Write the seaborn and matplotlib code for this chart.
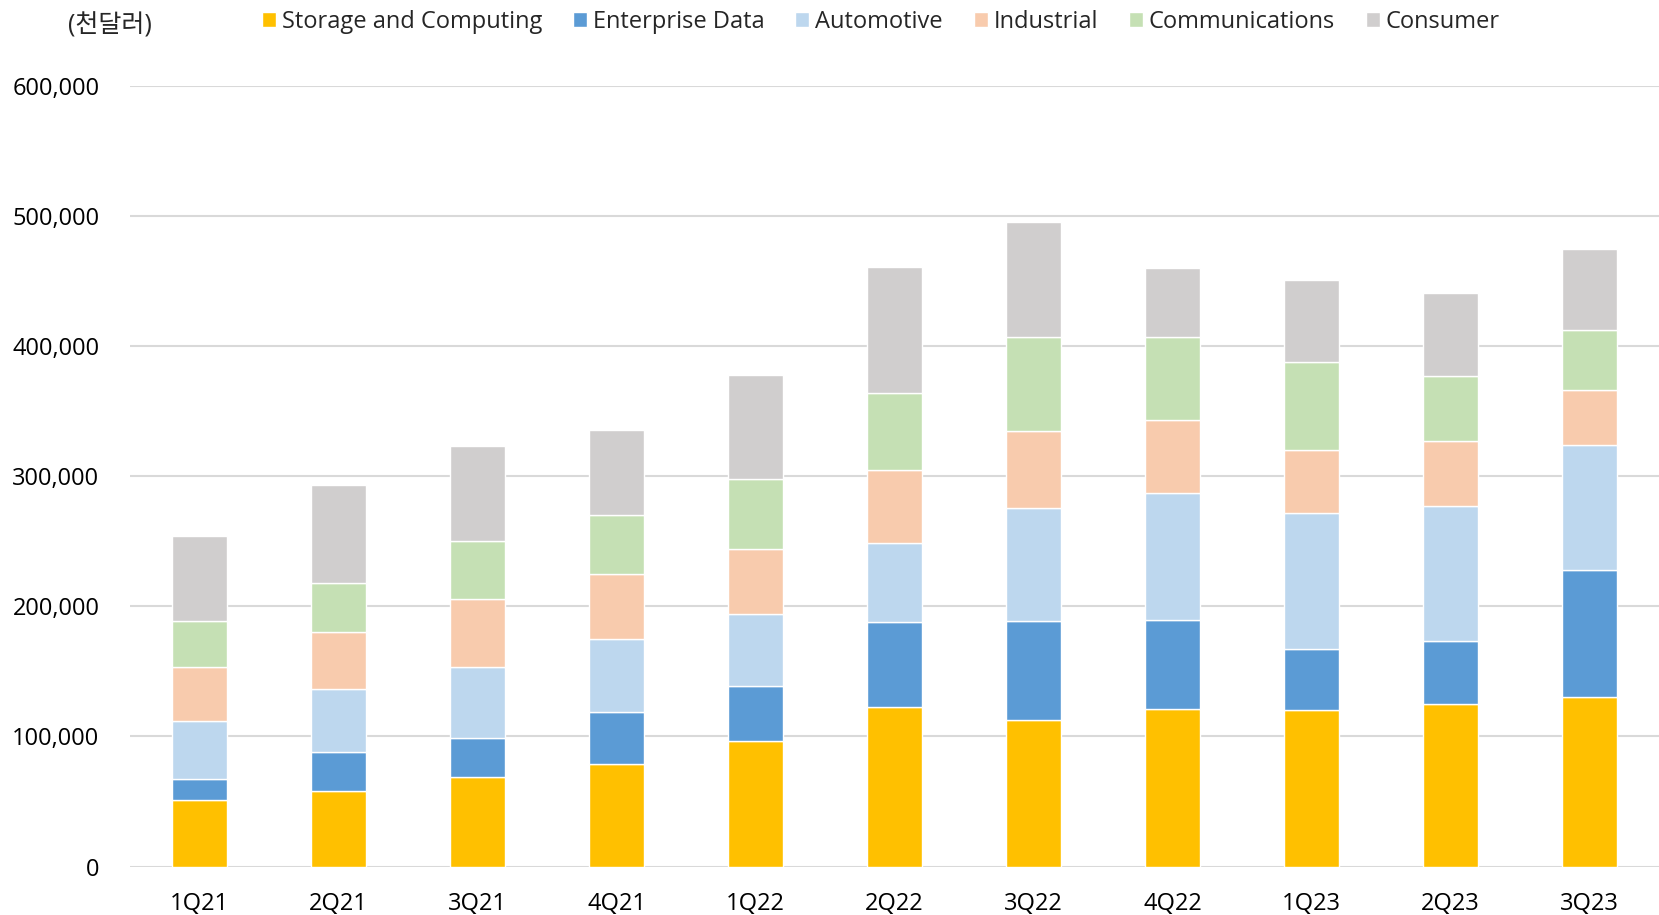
import matplotlib
matplotlib.use('Agg')
import matplotlib.pyplot as plt
import seaborn as sns
import numpy as np
import pandas as pd
from matplotlib.ticker import FuncFormatter

# Quarterly revenue by end market (천달러)
quarters = ['1Q21', '2Q21', '3Q21', '4Q21', '1Q22', '2Q22',
            '3Q22', '4Q22', '1Q23', '2Q23', '3Q23']
storage = [51000, 57700, 69000, 78800, 96700, 122700, 113000, 121000, 120000, 125000, 130000]
enterprise = [16500, 30000, 30000, 39800, 42300, 65000, 75500, 68300, 47300, 48000, 98000]
automotive = [44500, 48800, 54500, 56000, 55000, 61000, 87000, 97500, 104700, 104000, 96000]
industrial = [41000, 43500, 52000, 50300, 49700, 56000, 59300, 56800, 48000, 50400, 42400]
communications = [35500, 38000, 44500, 45500, 54300, 59400, 72300, 63400, 67500, 49600, 46300]
consumer = [65500, 75000, 73000, 65500, 79700, 96600, 88500, 52800, 63400, 64000, 61700]

series = ['Storage and Computing', 'Enterprise Data', 'Automotive',
          'Industrial', 'Communications', 'Consumer']
colors = ['#FFC000', '#5B9BD5', '#BDD7EE', '#F8CBAD', '#C5E0B4', '#D0CECE']

df = pd.DataFrame({'quarter': quarters,
                   series[0]: storage, series[1]: enterprise, series[2]: automotive,
                   series[3]: industrial, series[4]: communications, series[5]: consumer})

sns.set_style('white')
plt.rcParams['font.family'] = ['Open Sans', 'Noto Sans CJK KR', 'DejaVu Sans']

fig = plt.figure(figsize=(16.59, 9.15), dpi=100)
ax = fig.add_axes([0.0784, 0.053, 0.9216, 0.853])

bottom = np.zeros(len(quarters))
for name, c in zip(series, colors):
    sns.barplot(data=df, x='quarter', y=name, bottom=bottom, color=c, width=0.4,
                saturation=1, edgecolor='white', linewidth=1, label=name,
                ax=ax, zorder=3)
    bottom = bottom + df[name].values

ax.set_ylim(0, 600000)
ax.set_xlim(-0.5, len(quarters) - 0.5)
ax.set_yticks(np.arange(0, 600001, 100000))
ax.yaxis.set_major_formatter(FuncFormatter(lambda v, p: f'{int(v):,}'))
ax.grid(axis='y', color='#d9d9d9', linewidth=1.5, zorder=0)
ax.set_axisbelow(True)
for s in ax.spines.values():
    s.set_visible(False)
ax.tick_params(axis='both', length=0, labelsize=17, colors='#000000')
ax.tick_params(axis='y', pad=22)
ax.tick_params(axis='x', pad=18)
ax.set_xlabel('')
ax.set_ylabel('')

handles, labels = ax.get_legend_handles_labels()
if ax.get_legend() is not None:
    ax.get_legend().remove()
fig.legend(handles, labels, loc='center', bbox_to_anchor=(0.531, 0.976), ncol=6,
           frameon=False, fontsize=17, handlelength=0.6, handleheight=0.6,
           handletextpad=0.25, columnspacing=1.3, borderaxespad=0)

fig.text(0.066, 0.972, '(천달러)', fontsize=18, ha='center', va='center')

plt.savefig('out.png', dpi=100, facecolor='white')
plt.close()
